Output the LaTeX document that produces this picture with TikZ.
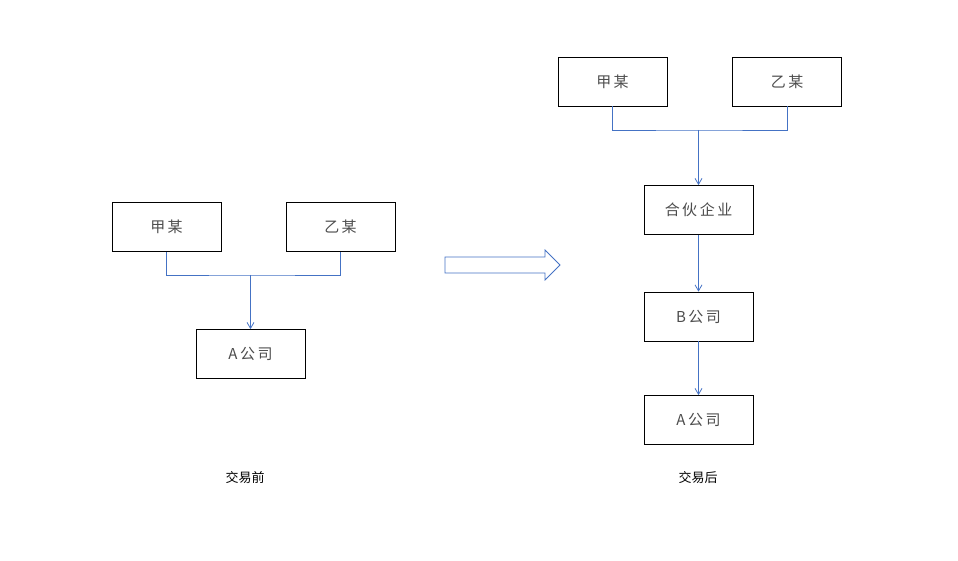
\documentclass[tikz,border=0pt]{standalone}
\usepackage{fontspec}
\setmainfont{Noto Sans CJK SC}
\usetikzlibrary{arrows.meta}
\definecolor{ln}{HTML}{4472C4}
\begin{document}
\begin{tikzpicture}[x=1pt,y=-1pt,
 box/.style={draw=black,line width=0.7pt,minimum width=109pt,minimum height=49pt,inner sep=0pt,font=\fontsize{15}{15}\selectfont,text=black!70},
 con/.style={draw=ln,line width=0.8pt},
 arr/.style={con,-{Straight Barb[length=6pt,width=7pt]}},
 lab/.style={font=\fontsize{13}{13}\selectfont}]
\useasboundingbox (0,0) rectangle (958,561);
\node[box] (j1) at (166.5,227) {甲\,某};
\node[box] (y1) at (340.5,227) {乙\,某};
\node[box] (a1) at (250.5,354) {A\,公\,司};
\coordinate (m1) at (250.5,275);
\draw[con] (j1.south) |- (m1) -| (y1.south);
\draw[arr] (m1) -- (a1.north);
\node[lab] (t1) at (245,478) {交易前};
\draw[ln,line width=0.8pt] (445,257) -- (545,257) -- (545,250) -- (560,265) -- (545,280) -- (545,273) -- (445,273) -- cycle;
\node[box] (j2) at (612.5,81.5) {甲\,某};
\node[box] (y2) at (787,81.5) {乙\,某};
\node[box] (h) at (698.5,210) {合\,伙\,企\,业};
\node[box] (b) at (698.5,316.5) {B\,公\,司};
\node[box] (a2) at (698.5,420) {A\,公\,司};
\coordinate (m2) at (698.5,130);
\draw[con] (j2.south) |- (m2) -| (y2.south);
\draw[arr] (m2) -- (h.north);
\draw[arr] (h.south) -- (b.north);
\draw[arr] (b.south) -- (a2.north);
\node[lab] (t2) at (698,478) {交易后};
\end{tikzpicture}
\end{document}
